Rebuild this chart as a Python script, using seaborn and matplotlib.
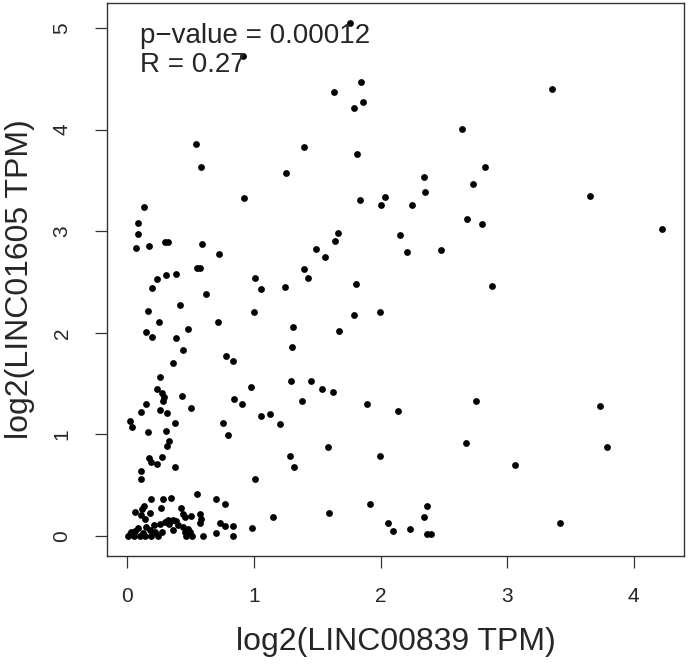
import numpy as np
import pandas as pd
import matplotlib
matplotlib.use("Agg")
import matplotlib.pyplot as plt
import seaborn as sns

# log2 TPM values
linc00839 = [
    0.915, 0.541, 0.581, 1.250, 1.759, 1.843, 1.635, 1.864, 1.788, 1.395, 1.817, 2.647,
    2.344, 2.824, 2.729, 3.353,
    0.923, 0.133, 0.081, 0.081, 0.065, 0.172, 0.300, 0.320, 0.589, 0.726, 0.550, 0.570,
    0.233, 0.307, 0.383, 0.196, 1.005, 1.053, 1.245, 0.618, 0.415, 0.160, 1.000, 0.246,
    0.715, 0.481, 0.146, 0.196, 0.386, 1.308, 1.298, 0.439, 0.776, 0.834, 0.362,
    1.835, 2.038, 2.004, 2.249, 2.354, 2.684, 2.805, 1.667, 1.640, 2.157, 1.488, 1.561,
    2.207, 2.476, 1.395, 1.427, 1.804, 2.879, 1.788, 1.996, 1.669,
    3.654, 4.228,
    0.259, 0.233, 0.270, 0.286, 0.283, 0.428, 0.149, 0.107, 0.259, 0.310, 0.500, 0.022,
    0.038, 0.375, 0.160, 0.307, 0.330, 0.310, 0.172, 0.183, 0.270, 0.236, 0.375, 0.107,
    0.104, 0.974, 0.844, 0.908, 1.290, 1.053, 1.124, 1.203, 0.752, 0.792, 1.285, 1.316,
    1.005, 1.153,
    1.448, 1.538, 1.625, 1.382, 1.896, 2.141, 2.757, 1.588, 1.996, 2.676, 1.920, 1.595,
    2.365, 2.344, 2.062, 2.099, 2.233, 2.370, 2.400,
    3.733, 3.788, 3.063, 3.419,
    0.183, 0.281, 0.346, 0.549, 0.697, 0.768, 0.267, 0.130, 0.062, 0.115, 0.104, 0.175,
    0.136, 0.425, 0.571, 0.504, 0.452, 0.579, 0.571, 0.320, 0.360, 0.386, 0.294, 0.254,
    0.209, 0.149, 0.175, 0.083, 0.030, 0.004, 0.051, 0.096, 0.215, 0.241, 0.188, 0.360,
    0.439, 0.478, 0.452, 0.492, 0.465, 0.510, 0.599, 0.702, 0.729, 0.773, 0.834, 0.834,
    0.987, 0.020, 0.060, 0.120, 0.140, 0.270, 0.330, 0.400, 0.440,
]
linc01605 = [
    4.720, 3.855, 3.630, 3.570, 5.046, 4.468, 4.370, 4.270, 4.213, 3.832, 3.760, 4.003,
    3.530, 3.630, 3.460, 4.400,
    3.330, 3.235, 3.078, 2.976, 2.835, 2.854, 2.890, 2.890, 2.871, 2.780, 2.635, 2.635,
    2.533, 2.569, 2.582, 2.444, 2.536, 2.431, 2.448, 2.379, 2.270, 2.215, 2.200, 2.103,
    2.106, 2.040, 2.005, 1.956, 1.952, 2.057, 1.863, 1.827, 1.769, 1.719, 1.703,
    3.307, 3.337, 3.258, 3.255, 3.383, 3.117, 3.074, 2.982, 2.904, 2.966, 2.822, 2.749,
    2.795, 2.818, 2.625, 2.542, 2.477, 2.461, 2.178, 2.205, 2.021,
    3.350, 3.019,
    1.562, 1.444, 1.404, 1.365, 1.332, 1.381, 1.299, 1.224, 1.237, 1.207, 1.257, 1.135,
    1.073, 1.109, 1.027, 1.033, 0.932, 0.886, 0.765, 0.731, 0.778, 0.709, 0.676, 0.640,
    0.564, 1.467, 1.345, 1.296, 1.526, 1.184, 1.204, 1.102, 1.109, 0.997, 0.787, 0.682,
    0.564, 0.187,
    1.529, 1.447, 1.421, 1.329, 1.302, 1.233, 1.332, 0.876, 0.787, 0.915, 0.318, 0.223,
    0.295, 0.184, 0.131, 0.049, 0.066, 0.023, 0.023,
    1.280, 0.876, 0.699, 0.131,
    0.364, 0.364, 0.377, 0.410, 0.364, 0.318, 0.279, 0.298, 0.239, 0.266, 0.207, 0.226,
    0.167, 0.272, 0.213, 0.200, 0.184, 0.167, 0.125, 0.157, 0.157, 0.148, 0.141, 0.115,
    0.108, 0.092, 0.059, 0.076, 0.042, 0.003, 0.003, 0.003, 0.042, 0.003, 0.003, 0.059,
    0.092, 0.069, 0.042, 0.036, 0.000, 0.000, 0.000, 0.027, 0.125, 0.101, 0.101, 0.000,
    0.082, 0.020, 0.050, 0.030, 0.000, 0.040, 0.120, 0.110, 0.220,
]
p_value = "0.00012"
r_value = "0.27"

df = pd.DataFrame({"x": linc00839, "y": linc01605})

sns.set_style("ticks")
plt.rcParams["font.family"] = ["Liberation Sans", "DejaVu Sans"]

fig = plt.figure(figsize=(6.88, 6.64), dpi=100)
ax = fig.add_axes([107 / 688, 108 / 664, 577 / 688, 553 / 664])

sns.scatterplot(data=df, x="x", y="y", color="black", s=24, linewidth=0, ax=ax)

ax.set_xlim(-0.162, 4.399)
ax.set_ylim(-0.197, 5.246)
ax.set_xticks([0, 1, 2, 3, 4])
ax.set_yticks([0, 1, 2, 3, 4, 5])
ax.tick_params(axis="both", direction="out", length=8.5, width=0.9, color="#333333",
               labelsize=15)
ax.tick_params(axis="x", pad=14)
ax.tick_params(axis="y", labelrotation=90, pad=17)
for lab in ax.get_yticklabels():
    lab.set_va("center")
for sp in ax.spines.values():
    sp.set_visible(True)
    sp.set_color("#333333")
    sp.set_linewidth(1.0)

ax.set_xlabel("log2(LINC00839 TPM)", fontsize=23, va="center")
ax.set_ylabel("log2(LINC01605 TPM)", fontsize=23, va="center")
ax.xaxis.set_label_coords(0.5, (556 - 642) / 553)
ax.yaxis.set_label_coords((20 - 107) / 577, 0.5)

ax.text(0.058, (556 - 23) / 553, f"p\u2212value = {p_value}\nR = {r_value}",
        transform=ax.transAxes, ha="left", va="top", fontsize=20, linespacing=1.16)

fig.savefig("out.png", dpi=100)
